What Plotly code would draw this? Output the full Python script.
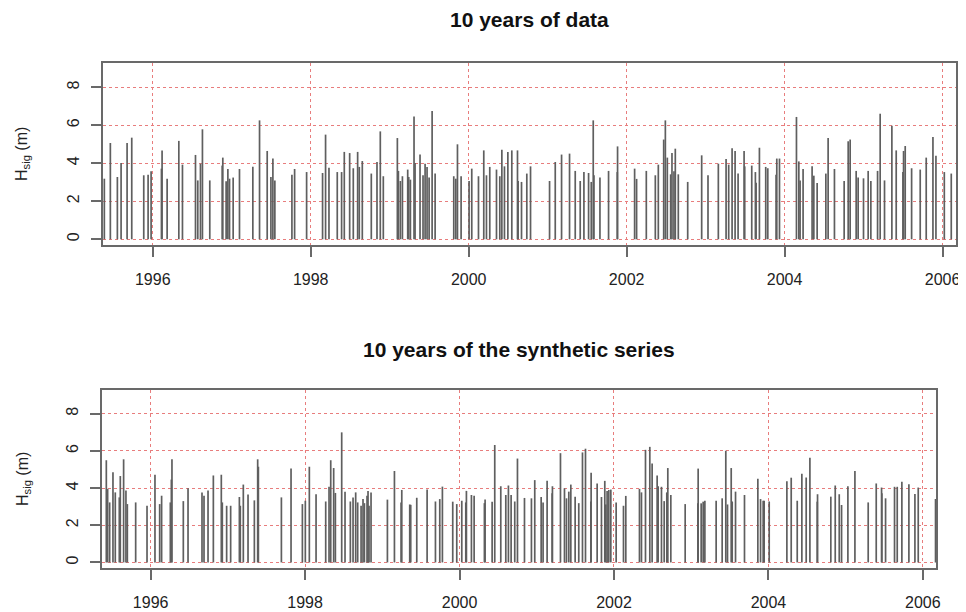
import plotly.graph_objects as go

# ---------------- data (decimal years, Hsig in m) ----------------
obs_time = [
    1995.387, 1995.463, 1995.552, 1995.599, 1995.675, 1995.734, 1995.886, 1995.941, 1995.979,
    1996.110, 1996.118, 1996.182, 1996.330, 1996.376, 1996.541, 1996.570, 1996.604, 1996.629,
    1996.722, 1996.879, 1996.887, 1996.929, 1996.951, 1996.972, 1997.018, 1997.098, 1997.267,
    1997.352, 1997.449, 1997.496, 1997.521, 1997.546, 1997.762, 1997.796, 1997.948, 1998.150,
    1998.188, 1998.231, 1998.336, 1998.391, 1998.425, 1998.493, 1998.539, 1998.594, 1998.615,
    1998.653, 1998.767, 1998.839, 1998.881, 1998.919,
    1999.097, 1999.110, 1999.135, 1999.161, 1999.228, 1999.241, 1999.262, 1999.308, 1999.321,
    1999.384, 1999.422, 1999.448, 1999.473, 1999.499, 1999.537, 1999.575, 1999.811, 1999.837,
    1999.858, 1999.904, 2000.005, 2000.039, 2000.124, 2000.191, 2000.225, 2000.267, 2000.352,
    2000.394, 2000.420, 2000.453, 2000.496, 2000.546, 2000.618, 2000.626, 2000.669, 2000.736,
    2000.783, 2001.024, 2001.096, 2001.176, 2001.277, 2001.349, 2001.412, 2001.459, 2001.518,
    2001.552, 2001.577, 2001.586, 2001.662, 2001.771, 2001.881, 2001.885, 2002.101, 2002.126,
    2002.249, 2002.363, 2002.401, 2002.469, 2002.490, 2002.515, 2002.557, 2002.574, 2002.599,
    2002.616, 2002.654,
    2002.773, 2002.950, 2003.030, 2003.161, 2003.259, 2003.292, 2003.335, 2003.373, 2003.411,
    2003.487, 2003.495, 2003.584, 2003.630, 2003.639, 2003.681, 2003.761, 2003.787, 2003.892,
    2003.901, 2003.935, 2004.150, 2004.180, 2004.196, 2004.234, 2004.348, 2004.370, 2004.412,
    2004.522, 2004.551, 2004.631, 2004.754, 2004.805, 2004.830, 2004.906, 2004.931, 2004.999,
    2005.058, 2005.092, 2005.177, 2005.210, 2005.265, 2005.358, 2005.413, 2005.498, 2005.506,
    2005.527, 2005.608, 2005.717, 2005.793, 2005.878, 2005.916, 2006.022, 2006.110,
]
obs_hsig = [
    3.19, 5.07, 3.28, 4.02, 5.07, 5.35, 3.37, 3.40, 3.58,
    3.72, 4.68, 3.19, 5.18, 3.93, 4.44, 3.10, 3.98, 5.79,
    3.10, 3.88, 4.30, 3.05, 3.70, 3.19, 3.25, 3.70, 3.82,
    6.26, 4.65, 3.28, 4.25, 3.10, 3.40, 3.70, 3.54, 3.49,
    5.51, 3.77, 3.54, 3.54, 4.60, 4.54, 3.74, 4.60, 3.81,
    4.12, 3.46, 4.07, 5.68, 3.32,
    5.33, 3.60, 3.07, 3.32, 3.67, 3.28, 3.14, 6.47, 4.02,
    4.46, 3.37, 3.98, 3.81, 3.25, 6.75, 3.46, 3.32, 3.19,
    5.00, 3.32, 3.07, 3.72, 3.32, 4.68, 3.37, 3.81, 3.67,
    3.32, 4.72, 3.84, 4.60, 4.68, 4.68, 3.07, 3.02, 3.46,
    3.84, 3.07, 4.07, 4.46, 4.51, 3.60, 3.07, 3.54, 3.49,
    3.02, 6.26, 3.37, 3.25, 3.60, 3.54, 4.89, 3.72, 3.18,
    3.60, 3.37, 3.93, 5.25, 6.26, 4.30, 3.42, 4.54, 3.58,
    4.77, 3.42,
    3.02, 4.42, 3.37, 3.98, 4.23, 3.93, 4.79, 4.65, 3.46,
    4.65, 3.84, 3.88, 3.54, 2.98, 4.82, 3.81, 3.74, 3.40,
    4.25, 4.25, 6.44, 4.10, 3.10, 3.70, 3.84, 3.35, 2.96,
    3.46, 5.33, 3.70, 3.07, 5.16, 5.25, 3.60, 3.25, 3.21,
    3.60, 3.07, 3.60, 6.61, 3.10, 5.98, 4.68, 3.54, 4.65,
    4.91, 3.74, 3.67, 4.30, 5.39, 4.40, 3.54, 3.46,
]

syn_time = [
    1995.426, 1995.443, 1995.469, 1995.512, 1995.542, 1995.594, 1995.607, 1995.650, 1995.680,
    1995.698, 1995.806, 1995.953, 1996.056, 1996.117, 1996.142, 1996.255, 1996.268, 1996.276,
    1996.423, 1996.484, 1996.665, 1996.691, 1996.743, 1996.812, 1996.915, 1996.928, 1996.984,
    1997.036, 1997.149, 1997.161, 1997.200, 1997.261, 1997.343, 1997.386, 1997.395, 1997.693,
    1997.818, 1997.965, 1998.003, 1998.055, 1998.142, 1998.267, 1998.310, 1998.332, 1998.370,
    1998.392, 1998.474, 1998.517, 1998.586, 1998.621, 1998.655, 1998.681, 1998.725, 1998.750,
    1998.768, 1998.802, 1998.815, 1998.828, 1998.854, 1999.066,
    1999.157, 1999.243, 1999.252, 1999.355, 1999.368, 1999.446, 1999.580, 1999.688, 1999.744,
    1999.778, 1999.912, 1999.964, 2000.029, 2000.081, 2000.089, 2000.154, 2000.189, 2000.322,
    2000.331, 2000.422, 2000.456, 2000.534, 2000.599, 2000.633, 2000.668, 2000.715, 2000.750,
    2000.841, 2000.931, 2000.974, 2001.057, 2001.082, 2001.134, 2001.199, 2001.203, 2001.307,
    2001.359, 2001.385, 2001.415, 2001.441, 2001.497, 2001.544, 2001.592, 2001.631, 2001.700,
    2001.704, 2001.782, 2001.838, 2001.881, 2001.894, 2001.911, 2001.933, 2001.959, 2002.028,
    2002.123, 2002.153, 2002.330, 2002.356, 2002.408, 2002.464, 2002.494, 2002.559, 2002.572,
    2002.615, 2002.650, 2002.684, 2002.697, 2002.736,
    2002.922, 2003.086, 2003.090, 2003.129, 2003.155, 2003.177, 2003.323, 2003.401, 2003.448,
    2003.470, 2003.518, 2003.531, 2003.574, 2003.690, 2003.863, 2003.898, 2003.932, 2003.945,
    2004.010, 2004.239, 2004.295, 2004.373, 2004.433, 2004.489, 2004.537, 2004.632, 2004.636,
    2004.808, 2004.865, 2004.917, 2004.947, 2005.029, 2005.120, 2005.292, 2005.396, 2005.465,
    2005.469, 2005.517, 2005.633, 2005.668, 2005.728, 2005.819, 2005.897, 2005.940, 2006.164,
]
syn_hsig = [
    5.50, 3.96, 3.23, 4.86, 3.77, 3.50, 4.65, 5.55, 3.87,
    3.14, 3.23, 3.05, 4.72, 3.14, 3.59, 3.23, 4.46, 5.55,
    3.30, 3.99, 3.77, 3.59, 3.87, 4.68, 4.72, 3.23, 3.05,
    3.05, 3.52, 3.05, 4.19, 3.65, 3.34, 5.55, 5.15, 3.50,
    5.05, 3.14, 3.32, 5.15, 3.67, 3.28, 4.07, 5.50, 5.08,
    3.74, 7.00, 3.81, 3.28, 3.50, 3.77, 3.23, 3.05, 3.41,
    3.19, 3.59, 3.85, 3.05, 3.76, 3.38,
    4.92, 3.23, 3.90, 3.12, 3.10, 3.48, 3.92, 3.28, 3.41,
    4.08, 3.27, 3.14, 3.32, 3.23, 3.85, 3.63, 3.59, 3.19,
    3.38, 3.27, 6.32, 4.10, 3.63, 4.14, 3.63, 3.28, 5.59,
    3.47, 3.45, 4.43, 3.52, 3.23, 4.39, 3.72, 4.10, 5.88,
    3.99, 3.45, 3.81, 4.19, 3.54, 3.19, 5.92, 6.12, 3.28,
    4.83, 4.25, 3.52, 4.39, 3.12, 3.85, 3.90, 3.92, 3.23,
    3.05, 3.58, 3.96, 3.77, 6.06, 6.22, 5.32, 4.68, 4.10,
    4.07, 3.30, 3.77, 5.08, 3.63,
    3.14, 3.19, 5.05, 3.18, 3.27, 3.32, 3.32, 3.45, 6.01,
    3.12, 5.08, 3.28, 3.81, 3.63, 4.50, 3.41, 3.32, 3.32,
    3.28, 4.37, 4.56, 3.32, 4.77, 4.57, 5.64, 3.27, 3.67,
    3.54, 4.14, 3.67, 3.09, 4.10, 4.92, 3.23, 4.25, 4.03,
    3.72, 3.45, 4.07, 4.07, 4.34, 4.21, 3.68, 4.03, 3.41,
]

year_ticks = [1996, 1998, 2000, 2002, 2004, 2006]
hsig_ticks = [0, 2, 4, 6, 8]
titles = ["10 years of data", "10 years of the synthetic series"]
ytitle = "H<sub>sig</sub> (m)"


def spikes(t, v):
    xs, ys = [], []
    for a, b in zip(t, v):
        xs += [a, a, None]
        ys += [0, b, None]
    return xs, ys


fig = go.Figure()
for i, (t, v) in enumerate([(obs_time, obs_hsig), (syn_time, syn_hsig)]):
    xs, ys = spikes(t, v)
    fig.add_trace(go.Scatter(
        x=xs, y=ys, mode="lines",
        line=dict(color="rgb(95,95,95)", width=1.7),
        xaxis="x" if i == 0 else "x2", yaxis="y" if i == 0 else "y2",
        showlegend=False, hoverinfo="skip",
    ))

# the page body has an 8px margin: work in page pixels, convert to figure paper coords
OFF = 8
W, H = 966 - OFF, 612 - OFF


def px(x):
    return (x - OFF) / W


def py(y):
    return 1 - (y - OFF) / H


grid = "rgb(232,125,125)"
frame = "rgb(105,105,105)"
FAM = "Liberation Sans, Arial, sans-serif"
tickfont = dict(family=FAM, size=16, color="#222")

common_x = dict(
    range=[1995.37, 2006.17], tickvals=year_ticks, ticktext=[str(y) for y in year_ticks],
    showgrid=True, gridcolor=grid, griddash="dot", gridwidth=1,
    showline=True, mirror=True, linecolor=frame, linewidth=2,
    ticks="outside", ticklen=10, tickcolor=frame, tickwidth=2,
    zeroline=False, tickfont=tickfont, ticklabelstandoff=9, automargin=False,
)
common_y = dict(
    range=[-0.3, 9.28], tickvals=hsig_ticks, tickangle=-90,
    showgrid=True, gridcolor=grid, griddash="dot", gridwidth=1,
    showline=True, mirror=True, linecolor=frame, linewidth=2,
    ticks="outside", ticklen=10, tickcolor=frame, tickwidth=2,
    zeroline=False, tickfont=tickfont, ticklabelstandoff=6, automargin=False,
)

fig.update_layout(
    width=W, height=H,
    margin=dict(l=0, r=0, t=0, b=0),
    paper_bgcolor="white", plot_bgcolor="white",
    xaxis=dict(common_x, domain=[px(103), px(956)], anchor="y"),
    yaxis=dict(common_y, domain=[py(245), py(63)], anchor="x"),
    xaxis2=dict(common_x, domain=[px(102), px(936)], anchor="y2"),
    yaxis2=dict(common_y, domain=[py(568), py(390)], anchor="x2"),
)

tfont = dict(family=FAM, size=21, color="#111")
fig.add_annotation(text="<b>" + titles[0] + "</b>", x=px((103 + 956) / 2), y=py(19),
                   xref="paper", yref="paper", showarrow=False, yanchor="middle", font=tfont)
fig.add_annotation(text="<b>" + titles[1] + "</b>", x=px((102 + 936) / 2), y=py(349),
                   xref="paper", yref="paper", showarrow=False, yanchor="middle", font=tfont)
for yr in ["y domain", "y2 domain"]:
    fig.add_annotation(text=ytitle, x=px(23), y=0.5, xref="paper", yref=yr,
                       showarrow=False, textangle=-90, xanchor="center", yanchor="middle",
                       font=dict(family=FAM, size=16, color="#222"))

fig.write_html("out.html")
